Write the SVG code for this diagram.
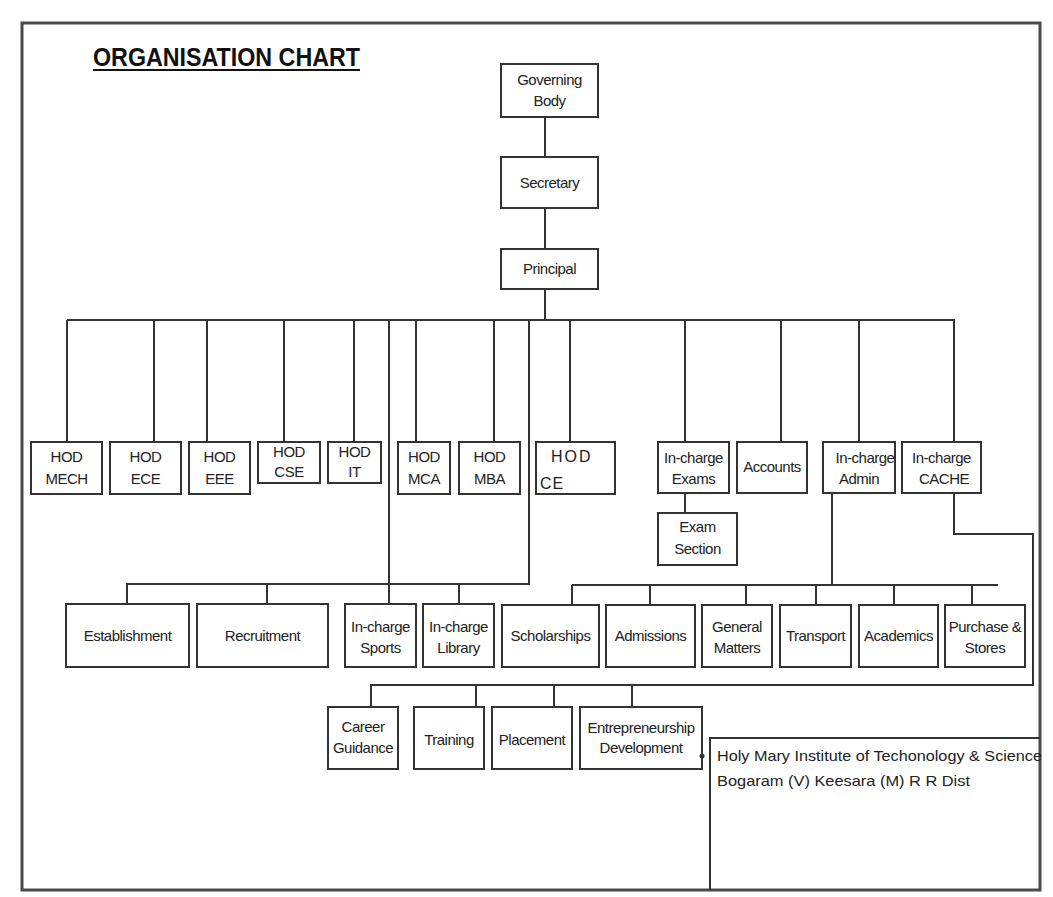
<svg xmlns="http://www.w3.org/2000/svg" width="1053" height="897" viewBox="0 0 1053 897">
<style>
.box{fill:#fff;stroke:#333;stroke-width:2}
.t{font-family:"Liberation Sans",Arial,sans-serif;font-size:15px;fill:#222;text-anchor:middle;letter-spacing:-0.5px}
.c{fill:none;stroke:#333;stroke-width:2}
.info{font-family:"Liberation Sans",Arial,sans-serif;font-size:15px;fill:#222}
</style>
<rect x="0" y="0" width="1053" height="897" fill="#fff"/>
<rect x="22" y="23" width="1018" height="867" fill="none" stroke="#4a4a4a" stroke-width="3"/>
<g id="title">
<text x="93" y="66" font-family="'Liberation Sans',Arial,sans-serif" font-weight="bold" font-size="26" textLength="267" lengthAdjust="spacingAndGlyphs" fill="#111">ORGANISATION CHART</text>
<line x1="93" y1="70" x2="360" y2="70" stroke="#111" stroke-width="2"/>
</g>
<g id="connectors" class="c">
<path d="M545 117V157M545 208V249M545 289V320M67 320H955"/>
<path d="M67 320V442M154 320V442M207 320V442M284 320V442M354 320V442M416 320V442M494 320V442M570 320V442M685 320V442M781 320V442M859 320V442M954 320V442"/>
<path d="M389 320V604M529 320V584H127V604M267 584V604M459 584V604"/>
<path d="M685 494V513"/>
<path d="M832 494V585M572 585H998M572 585V605M650 585V605M746 585V605M816 585V605M894 585V605M972 585V605"/>
<path d="M954 494V534H1033V685H371V707M476 685V707M554 685V707M632 685V707"/>
</g>
<g id="governing-body"><rect class="box" x="501" y="64" width="97" height="53"/><text class="t" x="549.5" y="85">Governing</text><text class="t" x="549.5" y="106">Body</text></g>
<g id="secretary"><rect class="box" x="501" y="157" width="97" height="51"/><text class="t" x="549.5" y="188">Secretary</text></g>
<g id="principal"><rect class="box" x="501" y="249" width="97" height="40"/><text class="t" x="549.5" y="274">Principal</text></g>
<g id="hod-mech"><rect class="box" x="31" y="442" width="71" height="52"/><text class="t" x="66.5" y="462">HOD</text><text class="t" x="66.5" y="484">MECH</text></g>
<g id="hod-ece"><rect class="box" x="110" y="442" width="71" height="52"/><text class="t" x="145.5" y="462">HOD</text><text class="t" x="145.5" y="484">ECE</text></g>
<g id="hod-eee"><rect class="box" x="189" y="442" width="61" height="52"/><text class="t" x="219.5" y="462">HOD</text><text class="t" x="219.5" y="484">EEE</text></g>
<g id="hod-cse"><rect class="box" x="258" y="442" width="62" height="41"/><text class="t" x="289" y="457">HOD</text><text class="t" x="289" y="477">CSE</text></g>
<g id="hod-it"><rect class="box" x="328" y="442" width="53" height="41"/><text class="t" x="354.5" y="457">HOD</text><text class="t" x="354.5" y="477">IT</text></g>
<g id="hod-mca"><rect class="box" x="398" y="442" width="52" height="52"/><text class="t" x="424" y="462">HOD</text><text class="t" x="424" y="484">MCA</text></g>
<g id="hod-mba"><rect class="box" x="459" y="442" width="61" height="52"/><text class="t" x="489.5" y="462">HOD</text><text class="t" x="489.5" y="484">MBA</text></g>
<g id="hod-ce"><rect class="box" x="536" y="442" width="79" height="52"/><text x="551" y="462" font-family="'Liberation Sans',Arial,sans-serif" font-size="16" letter-spacing="2" fill="#222">HOD</text><text x="540" y="489" font-family="'Liberation Sans',Arial,sans-serif" font-size="16" letter-spacing="1" fill="#222">CE</text></g>
<g id="incharge-exams"><rect class="box" x="658" y="442" width="71" height="51"/><text class="t" x="693.5" y="463">In-charge</text><text class="t" x="693.5" y="484">Exams</text></g>
<g id="accounts"><rect class="box" x="737" y="442" width="70" height="51"/><text class="t" x="772" y="472">Accounts</text></g>
<g id="incharge-admin"><rect class="box" x="823" y="442" width="72" height="51"/><text class="t" x="865" y="463">In-charge</text><text class="t" x="859" y="484">Admin</text></g>
<g id="incharge-cache"><rect class="box" x="902" y="442" width="79" height="51"/><text class="t" x="941.5" y="463">In-charge</text><text class="t" x="944" y="484">CACHE</text></g>
<g id="exam-section"><rect class="box" x="658" y="513" width="79" height="52"/><text class="t" x="697.5" y="532">Exam</text><text class="t" x="697.5" y="554">Section</text></g>
<g id="establishment"><rect class="box" x="66" y="604" width="123" height="63"/><text class="t" x="127.5" y="641">Establishment</text></g>
<g id="recruitment"><rect class="box" x="197" y="604" width="131" height="63"/><text class="t" x="262.5" y="641">Recruitment</text></g>
<g id="incharge-sports"><rect class="box" x="345" y="604" width="71" height="63"/><text class="t" x="380.5" y="632">In-charge</text><text class="t" x="380.5" y="653">Sports</text></g>
<g id="incharge-library"><rect class="box" x="423" y="604" width="71" height="63"/><text class="t" x="458.5" y="632">In-charge</text><text class="t" x="458.5" y="653">Library</text></g>
<g id="scholarships"><rect class="box" x="502" y="605" width="97" height="62"/><text class="t" x="550.5" y="641">Scholarships</text></g>
<g id="admissions"><rect class="box" x="606" y="605" width="89" height="62"/><text class="t" x="650.5" y="641">Admissions</text></g>
<g id="general-matters"><rect class="box" x="702" y="605" width="70" height="62"/><text class="t" x="737" y="632">General</text><text class="t" x="737" y="653">Matters</text></g>
<g id="transport"><rect class="box" x="780" y="605" width="71" height="62"/><text class="t" x="815.5" y="641">Transport</text></g>
<g id="academics"><rect class="box" x="859" y="605" width="79" height="62"/><text class="t" x="898.5" y="641">Academics</text></g>
<g id="purchase-stores"><rect class="box" x="945" y="605" width="80" height="62"/><text class="t" x="985" y="632">Purchase &amp;</text><text class="t" x="985" y="653">Stores</text></g>
<g id="career-guidance"><rect class="box" x="328" y="707" width="70" height="62"/><text class="t" x="363" y="732">Career</text><text class="t" x="363" y="753">Guidance</text></g>
<g id="training"><rect class="box" x="414" y="707" width="70" height="62"/><text class="t" x="449" y="745">Training</text></g>
<g id="placement"><rect class="box" x="492" y="707" width="80" height="62"/><text class="t" x="532" y="745">Placement</text></g>
<g id="entrepreneurship-development"><rect class="box" x="580" y="707" width="122" height="62"/><text class="t" x="641" y="733">Entrepreneurship</text><text class="t" x="641" y="753">Development</text></g>
<g id="institute-info">
<path d="M710 890V738H1040" fill="none" stroke="#333" stroke-width="2"/>
<circle cx="702" cy="756" r="2.5" fill="#333"/>
<text class="info" x="717" y="761" textLength="325" lengthAdjust="spacingAndGlyphs">Holy Mary Institute of Techonology &amp; Science</text>
<text class="info" x="717" y="786" textLength="253" lengthAdjust="spacingAndGlyphs">Bogaram (V) Keesara (M) R R Dist</text>
</g>
</svg>
